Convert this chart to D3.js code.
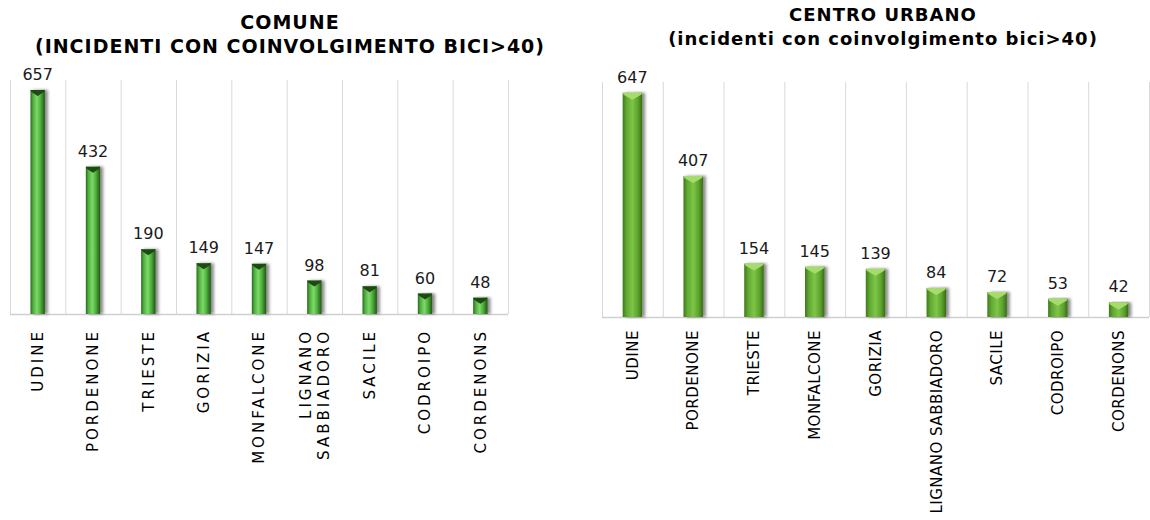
<!DOCTYPE html>
<html>
<head>
<meta charset="utf-8">
<script src="https://cdn.jsdelivr.net/npm/d3@7"></script>
<style>
  body { margin: 0; background: #fff; }
  svg { display: block; font-family: "DejaVu Sans", Verdana, sans-serif; }
</style>
</head>
<body>
<svg id="chart" width="1150" height="520"></svg>
<script>
// data
let comuneCategories = ['UDINE', 'PORDENONE', 'TRIESTE', 'GORIZIA', 'MONFALCONE',
  'LIGNANO SABBIADORO', 'SACILE', 'CODROIPO', 'CORDENONS'];
let comuneValues = [657, 432, 190, 149, 147, 98, 81, 60, 48];

let centroCategories = ['UDINE', 'PORDENONE', 'TRIESTE', 'MONFALCONE', 'GORIZIA',
  'LIGNANO SABBIADORO', 'SACILE', 'CODROIPO', 'CORDENONS'];
let centroValues = [647, 407, 154, 145, 139, 84, 72, 53, 42];

let svg = d3.select('#chart');
let defs = svg.append('defs');

// drop shadow to the right of the bars
let shadow = defs.append('filter').attr('id', 'shadow')
  .attr('x', '-20%').attr('y', '-5%').attr('width', '180%').attr('height', '110%');
shadow.append('feDropShadow')
  .attr('dx', 3).attr('dy', 0).attr('stdDeviation', 1.6)
  .attr('flood-color', '#000').attr('flood-opacity', 0.45);

function gradient(id, stops) {
  let g = defs.append('linearGradient').attr('id', id)
    .attr('x1', '0%').attr('x2', '100%').attr('y1', '0%').attr('y2', '0%');
  stops.forEach(s => g.append('stop').attr('offset', s[0]).attr('stop-color', s[1]));
}
gradient('gLeft', [['0%', '#2a6a1c'], ['18%', '#4fae3e'], ['45%', '#7fd96c'], ['70%', '#4caf3b'], ['100%', '#1f5514']]);
gradient('gRight', [['0%', '#3d7a1a'], ['20%', '#62a833'], ['50%', '#7cc646'], ['80%', '#5ca02c'], ['100%', '#356c15']]);

function drawChart(o) {
  let g = svg.append('g');

  let x = d3.scaleBand().domain(o.categories).range([o.left, o.right]).padding(0);
  let y = d3.scaleLinear().domain([0, o.yMax]).range([o.bottom, o.top]);
  let bw = x.bandwidth() * o.barFrac;

  // titles
  o.title.forEach((t, i) => {
    g.append('text').attr('x', o.titleX).attr('y', o.titleY[i])
      .attr('text-anchor', 'middle').attr('font-weight', 'bold')
      .attr('font-size', o.titleSize).attr('letter-spacing', o.titleSpacing)
      .attr('fill', '#000').text(t);
  });

  // vertical grid lines between categories
  let edges = o.categories.map(c => x(c)).concat([o.right]);
  g.selectAll('line.grid').data(edges).enter().append('line')
    .attr('class', 'grid')
    .attr('x1', d => d + 0.5).attr('x2', d => d + 0.5)
    .attr('y1', o.top).attr('y2', o.bottom)
    .attr('stroke', '#d9d9d9').attr('stroke-width', 1);
  g.append('line')
    .attr('x1', o.left).attr('x2', o.right)
    .attr('y1', o.bottom + 0.5).attr('y2', o.bottom + 0.5)
    .attr('stroke', '#d0d0d0').attr('stroke-width', 1.5);

  let data = o.categories.map((c, i) => ({ c: c, v: o.values[i] }));
  let cx = d => x(d.c) + x.bandwidth() / 2;

  // bars
  g.selectAll('rect.bar').data(data).enter().append('rect')
    .attr('class', 'bar')
    .attr('x', d => cx(d) - bw / 2)
    .attr('y', d => y(d.v))
    .attr('width', bw)
    .attr('height', d => o.bottom - y(d.v))
    .attr('fill', o.fill)
    .attr('filter', 'url(#shadow)');

  // top chevron of the bevelled bars
  g.selectAll('path.cap').data(data).enter().append('path')
    .attr('class', 'cap')
    .attr('d', d => {
      let x0 = cx(d) - bw / 2, t = y(d.v);
      return `M${x0},${t} L${x0 + bw},${t} L${x0 + bw - 1},${t + 2} L${cx(d)},${t + o.capH} L${x0 + 1},${t + 2} Z`;
    })
    .attr('fill', o.capColor);

  // value labels
  g.selectAll('text.val').data(data).enter().append('text')
    .attr('class', 'val')
    .attr('x', d => cx(d))
    .attr('y', d => y(d.v) - 10)
    .attr('text-anchor', 'middle')
    .attr('font-size', 16).attr('fill', '#1a1a1a')
    .text(d => d.v);

  // category labels, rotated
  let labels = g.selectAll('text.cat').data(data).enter().append('text')
    .attr('class', 'cat')
    .attr('transform', d => `translate(${cx(d)},${o.labelY}) rotate(-90)`)
    .attr('text-anchor', 'end')
    .attr('font-size', o.labelSize)
    .attr('letter-spacing', o.labelSpacing)
    .attr('fill', '#000');

  labels.each(function(d) {
    let parts = o.wrap ? d.c.split(' ') : [d.c];
    let el = d3.select(this);
    let start = 0.35 - (parts.length - 1) * 0.6;
    parts.forEach((p, i) => {
      el.append('tspan').attr('x', 0).attr('dy', (i === 0 ? start : 1.2) + 'em').text(p);
    });
  });
}

drawChart({
  categories: comuneCategories, values: comuneValues,
  left: 10, right: 508, top: 80, bottom: 314, yMax: 686, barFrac: 0.26,
  fill: 'url(#gLeft)', capColor: '#1d4a12', capH: 6,
  title: ['COMUNE', '(INCIDENTI CON COINVOLGIMENTO BICI>40)'],
  titleX: 290, titleY: [29, 53], titleSize: 19, titleSpacing: 1,
  labelY: 329, labelSize: 15, labelSpacing: 3, wrap: true
});

drawChart({
  categories: centroCategories, values: centroValues,
  left: 602, right: 1149, top: 82, bottom: 317, yMax: 678, barFrac: 0.32,
  fill: 'url(#gRight)', capColor: '#a6dc6e', capH: 7,
  title: ['CENTRO URBANO', '(incidenti con coinvolgimento bici>40)'],
  titleX: 883, titleY: [21, 45], titleSize: 18, titleSpacing: 1,
  labelY: 330, labelSize: 15, labelSpacing: 0.5, wrap: false
});
</script>
</body>
</html>
